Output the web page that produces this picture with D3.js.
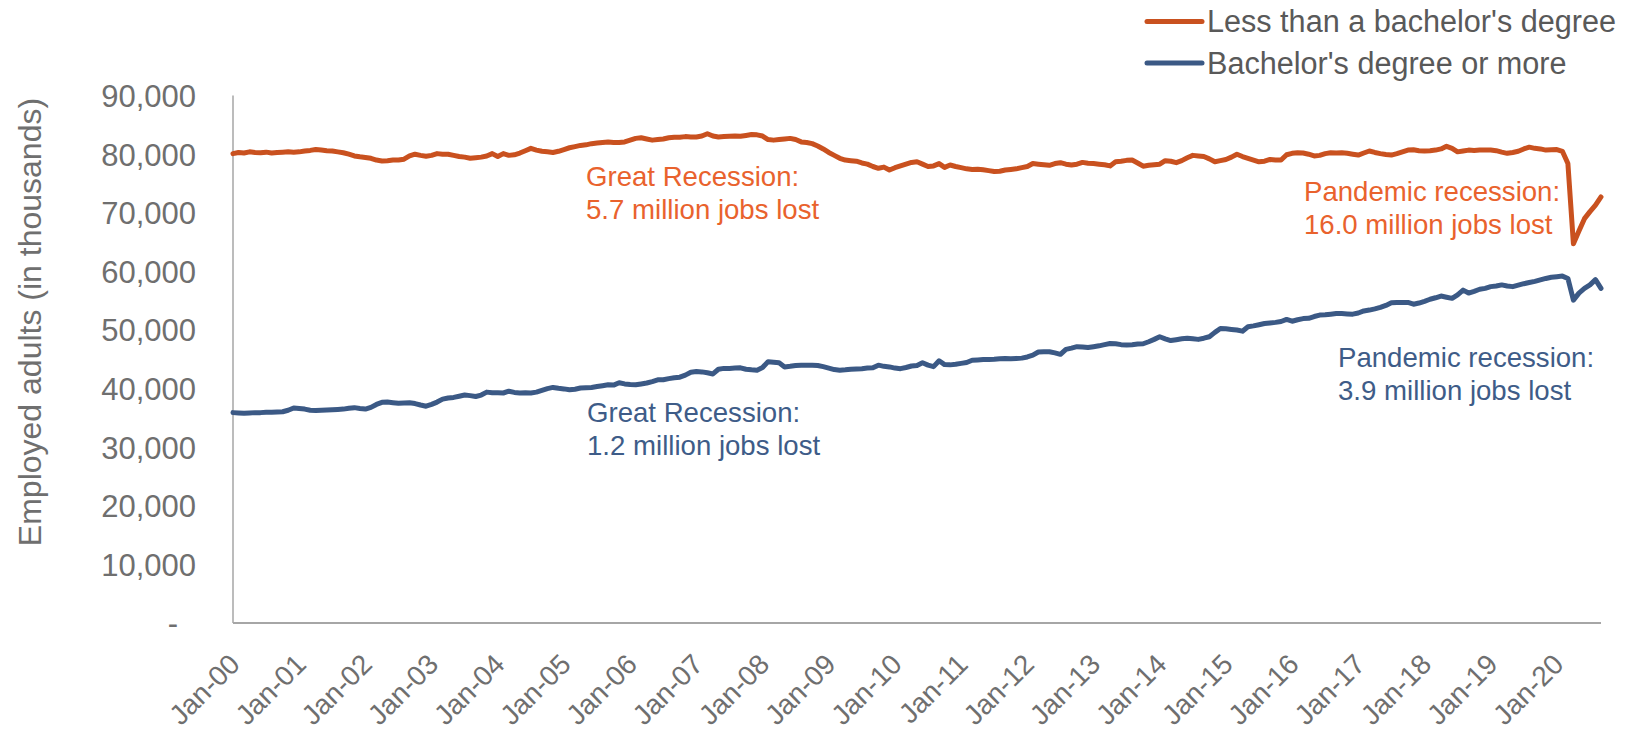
<!DOCTYPE html>
<html>
<head>
<meta charset="utf-8">
<script src="https://cdn.jsdelivr.net/npm/d3@7/dist/d3.min.js"></script>
<style>
  html, body { margin: 0; padding: 0; background: #ffffff; }
  svg { display: block; font-family: "Liberation Sans", Arial, sans-serif; }
</style>
</head>
<body>
<svg id="chart" width="1650" height="733"></svg>
<script>
// ---------------- DATA ----------------
const yearLabels = ["00","01","02","03","04","05","06","07","08","09","10","11","12","13","14","15","16","17","18","19","20"];
const monthNames = ["Jan","Feb","Mar","Apr","May","Jun","Jul","Aug","Sep","Oct","Nov","Dec"];
const lastMonthCount2020 = 9; // data runs Jan-00 .. Sep-20

const tickLabels = ["Jan-00","Jan-01","Jan-02","Jan-03","Jan-04","Jan-05","Jan-06","Jan-07","Jan-08","Jan-09","Jan-10",
  "Jan-11","Jan-12","Jan-13","Jan-14","Jan-15","Jan-16","Jan-17","Jan-18","Jan-19","Jan-20"];

const yTicks = [0,10000,20000,30000,40000,50000,60000,70000,80000,90000];

const seriesNames = ["Less than a bachelor's degree", "Bachelor's degree or more"];

// Employed adults (in thousands), monthly
const lessThanBachelors = [
  80100,80300,80200,80400,80300,80250,80350,80200,80300,80350,80400,80350, // 2000
  80400,80550,80650,80800,80700,80600,80550,80400,80250,80000,79700,79550, // 2001
  79450,79300,79000,78850,78900,79000,79000,79150,79700,80000,79800,79650, // 2002
  79800,80100,80000,80000,79800,79600,79500,79300,79400,79500,79700,80100, // 2003
  79600,80100,79800,79900,80200,80600,81000,80700,80500,80400,80300,80500, // 2004
  80800,81100,81300,81500,81600,81800,81900,82000,82100,82000,82000,82100, // 2005
  82400,82700,82800,82600,82400,82500,82600,82800,82900,82900,83000,82950, // 2006
  82950,83100,83500,83100,82950,83000,83050,83100,83050,83200,83350,83300, // 2007
  83100,82500,82400,82500,82600,82700,82500,82100,82000,81800,81400,80900, // 2008
  80300,79800,79300,79000,78900,78800,78500,78300,77900,77600,77800,77300, // 2009
  77700,78000,78300,78600,78700,78300,77900,78000,78400,77750,78150,77900, // 2010
  77700,77500,77400,77450,77350,77200,77050,77100,77300,77400,77500,77700, // 2011
  77900,78400,78300,78200,78100,78400,78550,78300,78150,78300,78600,78450, // 2012
  78400,78300,78200,78000,78700,78800,78950,79000,78500,77950,78100,78200, // 2013
  78300,78900,78800,78550,78900,79400,79800,79700,79600,79200,78700,78900, // 2014
  79100,79500,80000,79600,79300,79000,78700,78800,79100,79000,79000,79900, // 2015
  80150,80250,80200,80000,79700,79800,80100,80250,80200,80250,80150,80000, // 2016
  79850,80200,80550,80300,80100,79950,79850,80100,80400,80700,80750,80600, // 2017
  80550,80600,80700,80900,81350,81000,80400,80550,80700,80650,80700,80700, // 2018
  80700,80600,80350,80150,80300,80500,80900,81200,81000,80900,80700,80750, // 2019
  80800,80500,78400,64700,66900,69000,70200,71300,72700                     // 2020
];

const bachelorsOrMore = [
  35900,35850,35800,35850,35900,35900,35950,35950,36000,36050,36300,36700, // 2000
  36600,36500,36300,36250,36300,36350,36400,36450,36500,36650,36750,36600, // 2001
  36500,36800,37300,37650,37700,37600,37500,37550,37600,37450,37200,37000, // 2002
  37300,37700,38200,38400,38500,38700,38900,38800,38650,38900,39400,39300, // 2003
  39300,39250,39550,39350,39250,39300,39250,39400,39700,40000,40200,40050, // 2004
  39950,39800,39900,40100,40150,40200,40350,40500,40650,40600,41000,40800, // 2005
  40700,40650,40800,40950,41200,41500,41500,41700,41850,41950,42300,42800, // 2006
  42900,42850,42700,42500,43300,43450,43450,43500,43550,43300,43200,43150, // 2007
  43600,44600,44500,44400,43700,43800,43950,44000,44000,44000,43950,43750, // 2008
  43500,43250,43150,43200,43300,43350,43400,43500,43550,44000,43800,43700, // 2009
  43500,43400,43600,43850,43950,44400,44000,43750,44750,44100,44050,44150, // 2010
  44300,44450,44850,44900,44950,44950,45000,45100,45150,45100,45150,45200, // 2011
  45400,45700,46250,46300,46300,46100,45850,46700,46900,47150,47100,47000, // 2012
  47150,47300,47500,47700,47650,47500,47450,47500,47600,47650,48000,48400, // 2013
  48850,48500,48200,48350,48500,48600,48500,48400,48600,48850,49600,50250, // 2014
  50200,50100,50000,49800,50550,50700,50900,51100,51200,51300,51450,51800, // 2015
  51500,51750,51950,52000,52300,52550,52600,52700,52800,52800,52750,52700, // 2016
  52900,53250,53400,53600,53850,54200,54650,54700,54700,54700,54400,54600, // 2017
  54900,55250,55500,55800,55600,55400,56000,56800,56300,56600,56950,57100, // 2018
  57400,57500,57700,57500,57400,57650,57900,58100,58300,58550,58800,59000, // 2019
  59100,59200,58800,55100,56300,57100,57700,58600,57100                     // 2020
];

const annotations = [
  { lines: ["Great Recession:", "5.7 million jobs lost"], series: 0, x: 586, y: 186 },
  { lines: ["Great Recession:", "1.2 million jobs lost"], series: 1, x: 587, y: 422 },
  { lines: ["Pandemic recession:", "16.0 million jobs lost"], series: 0, x: 1304, y: 201 },
  { lines: ["Pandemic recession:", "3.9 million jobs lost"], series: 1, x: 1338, y: 367 }
];

// ---------------- BUILD ----------------
const months = [];
yearLabels.forEach((yy, yi) => {
  const n = yi === yearLabels.length - 1 ? lastMonthCount2020 : 12;
  for (let m = 0; m < n; m++) months.push(monthNames[m] + "-" + yy);
});

const lineColors = ["#C9511F", "#3B5985"];
const textColors = ["#E9622D", "#3E5C88"];
const axisColor = "#A6A6A6";
const tickTextColor = "#6F6F6F";

const svg = d3.select("#chart");
const x0 = 233, x1 = 1601, yBottom = 623, yTop = 95.6;

const x = d3.scalePoint().domain(months).range([x0, x1]);
const y = d3.scaleLinear().domain([0, 90000]).range([yBottom, yTop]);

// Y axis
const yAxis = d3.axisLeft(y).tickValues(yTicks).tickSize(0).tickPadding(0)
  .tickFormat(d => d === 0 ? "-" : d3.format(",")(d));
const gy = svg.append("g").attr("transform", `translate(${x0},0)`).call(yAxis);
gy.select(".domain").attr("stroke", axisColor).attr("stroke-width", 1.5)
  .attr("d", `M0,${yBottom}V${yTop}`);
gy.selectAll(".tick text")
  .attr("x", d => d === 0 ? -55 : -37)
  .attr("dy", "0.35em")
  .attr("fill", tickTextColor)
  .style("font-size", "31px")
  .style("font-family", "'Liberation Sans', Arial, sans-serif");

// X axis
const xAxis = d3.axisBottom(x).tickValues(months.filter((m, i) => i % 12 === 0))
  .tickSize(0).tickFormat(d => d);
const gx = svg.append("g").attr("transform", `translate(0,${yBottom})`).call(xAxis);
gx.select(".domain").attr("stroke", axisColor).attr("stroke-width", 2)
  .attr("d", `M${x0},0H${x1}`);
gx.selectAll(".tick text")
  .text((d, i) => tickLabels[i])
  .attr("text-anchor", "end")
  .attr("x", 0).attr("y", 0).attr("dy", 0)
  .attr("transform", "translate(8,43) rotate(-45)")
  .attr("fill", tickTextColor)
  .style("font-size", "28px")
  .style("font-family", "'Liberation Sans', Arial, sans-serif");

// Y axis title
svg.append("text")
  .attr("transform", "translate(30,322) rotate(-90)")
  .attr("text-anchor", "middle")
  .attr("dominant-baseline", "central")
  .attr("fill", tickTextColor)
  .style("font-size", "32px")
  .text("Employed adults (in thousands)");

// Lines
const line = d3.line().x((d, i) => x(months[i])).y(d => y(d));
[bachelorsOrMore, lessThanBachelors].forEach((data, k) => {
  const si = k === 0 ? 1 : 0;
  svg.append("path")
    .datum(data)
    .attr("d", line)
    .attr("fill", "none")
    .attr("stroke", lineColors[si])
    .attr("stroke-width", 5)
    .attr("stroke-linejoin", "round")
    .attr("stroke-linecap", "round");
});

// Annotations
annotations.forEach(a => {
  const t = svg.append("text")
    .attr("fill", textColors[a.series])
    .style("font-size", "27.6px");
  a.lines.forEach((s, i) => {
    t.append("tspan").attr("x", a.x).attr("y", a.y + i * 32.5).text(s);
  });
});

// Legend
const legendRows = [21.5, 63];
seriesNames.forEach((name, i) => {
  const g = svg.append("g").attr("transform", `translate(0,${legendRows[i]})`);
  g.append("line").attr("x1", 1147).attr("x2", 1202).attr("y1", 0).attr("y2", 0)
    .attr("stroke", lineColors[i]).attr("stroke-width", 5).attr("stroke-linecap", "round");
  g.append("text").attr("x", 1207).attr("y", 0).attr("dy", "0.35em")
    .attr("fill", "#595959").style("font-size", "30.6px").text(name);
});
</script>
</body>
</html>
